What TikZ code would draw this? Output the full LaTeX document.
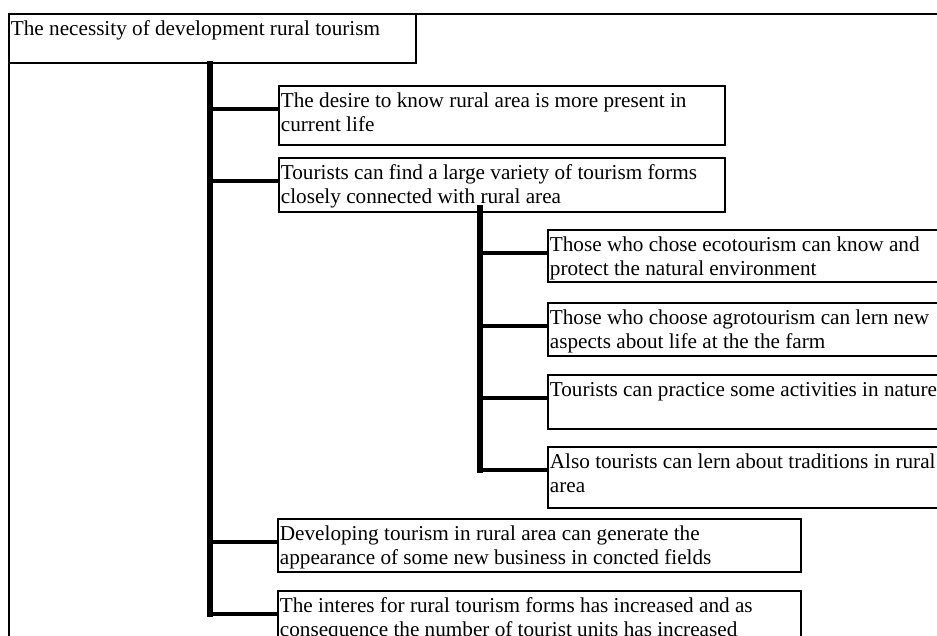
\documentclass[tikz,border=0pt]{standalone}
\usepackage{fontspec}
\setmainfont{Liberation Serif}
\newcommand{\bxt}[3]{\parbox[c][#2pt][t]{#1pt}{\raggedright\rule{0pt}{21.5pt}#3}}
\begin{document}
\begin{tikzpicture}[x=1pt,y=-1pt,
  boxn/.style={draw=black, line width=1.8pt, anchor=north west, inner xsep=2pt, inner ysep=0pt, font=\fontsize{21.2}{24}\selectfont},
  trunkline/.style={line width=6.5pt, line cap=rect},
  branchline/.style={line width=4.8pt}]
\useasboundingbox (0,0) rectangle (937,636);
\clip (0,0) rectangle (937,636);
\node[draw, line width=1.8pt, anchor=north west, minimum width=990pt, minimum height=700pt, inner sep=0pt] (frame) at (8,13) {};
\node[boxn, fill=white] (title) at (8,13) {\bxt{403}{49}{The necessity of development rural tourism}};
\node[boxn] (b1) at (278,85) {\bxt{442}{59}{The desire to know rural area is more present in\\current life}};
\node[boxn] (b2) at (278,157) {\bxt{442}{54}{Tourists can find a large variety of tourism forms\\closely connected with rural area}};
\node[boxn] (sa) at (547,229) {\bxt{409}{52}{Those who chose ecotourism can know and\\protect the natural environment}};
\node[boxn] (sb) at (547,302) {\bxt{409}{53}{Those who choose agrotourism can lern new\\aspects about life at the the farm}};
\node[boxn] (sc) at (547,374) {\bxt{409}{54}{Tourists can practice some activities in nature}};
\node[boxn] (sd) at (547,446) {\bxt{409}{61}{Also tourists can lern about traditions in rural\\area}};
\node[boxn] (be) at (277,518) {\bxt{519}{53}{Developing tourism in rural area can generate the\\appearance of some new business in concted fields}};
\node[boxn] (bf) at (277,590) {\bxt{519}{80}{The interes for rural tourism forms has increased and as\\consequence the number of tourist units has increased}};
\coordinate (tk) at (210,0);
\coordinate (stk) at (480,0);
\foreach \n in {b1,b2,sa,sb,sc,sd,be,bf}{
  \path (\n.north west) ++(0,24) coordinate (\n c);
}
\path ([yshift=5pt]b2.south) coordinate (b2s);
\draw[trunkline] (title.south -| tk) -- (tk |- bfc);
\draw[trunkline] (b2s -| stk) -- (stk |- sdc);
\foreach \n in {b1,b2,be,bf}{
  \draw[branchline] (tk |- \n c) -- (\n c);
}
\foreach \n in {sa,sb,sc,sd}{
  \draw[branchline] (stk |- \n c) -- (\n c);
}
\end{tikzpicture}
\end{document}
